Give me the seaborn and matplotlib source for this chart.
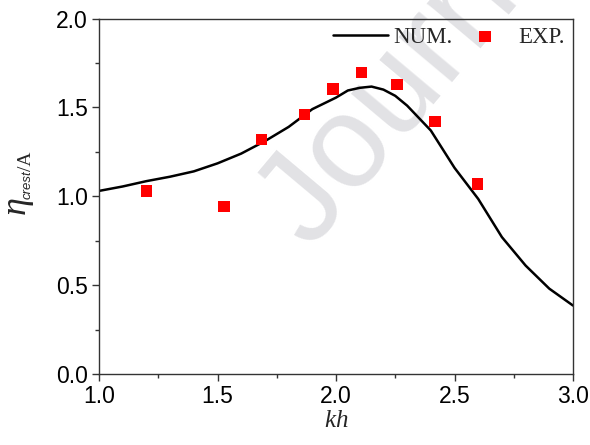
import numpy as np
import pandas as pd
import matplotlib
matplotlib.use("Agg")
import matplotlib.pyplot as plt
import seaborn as sns
from matplotlib.ticker import MultipleLocator

num_kh = [1.0, 1.1, 1.2, 1.3, 1.4, 1.5, 1.6, 1.7, 1.8, 1.9, 2.0, 2.05, 2.1, 2.15,
          2.2, 2.25, 2.3, 2.4, 2.5, 2.6, 2.7, 2.8, 2.9, 3.0]
num_eta = [1.03, 1.055, 1.085, 1.11, 1.14, 1.185, 1.24, 1.31, 1.39, 1.49, 1.555, 1.595,
           1.61, 1.617, 1.60, 1.565, 1.51, 1.37, 1.16, 0.985, 0.77, 0.61, 0.48, 0.385]
exp_kh = [1.20, 1.527, 1.685, 1.868, 1.987, 2.108, 2.257, 2.418, 2.598]
exp_eta = [1.03, 0.941, 1.318, 1.461, 1.603, 1.697, 1.628, 1.419, 1.069]

sns.set_style("ticks")
plt.rcParams['font.family'] = ['Liberation Sans', 'DejaVu Sans']
plt.rcParams['mathtext.fontset'] = 'custom'
plt.rcParams['mathtext.it'] = 'Liberation Serif:italic'
plt.rcParams['mathtext.rm'] = 'Liberation Serif'

W, H = 590.0, 445.0
fig = plt.figure(figsize=(5.9, 4.45), dpi=100)
ax = fig.add_axes([0.1678, 0.1596, 0.9712 - 0.1678, 0.9584 - 0.1596])

# watermark
fig.text(0.525, 0.44, "Journal", fontsize=95, color="#e2e2e5", rotation=50,
         ha="left", va="baseline", rotation_mode="anchor", zorder=-5,
         family="Liberation Sans")
ax.patch.set_alpha(0)

num_df = pd.DataFrame({"kh": num_kh, "eta": num_eta})
exp_df = pd.DataFrame({"kh": exp_kh, "eta": exp_eta})
sns.lineplot(data=num_df, x="kh", y="eta", ax=ax, color="black", lw=1.8,
             label="NUM.", sort=False)
sns.scatterplot(data=exp_df, x="kh", y="eta", ax=ax, color="#ff0000", marker="s",
                s=65, edgecolor="none", label="EXP.", zorder=3)

ax.set_xlim(1.0, 3.0)
ax.set_ylim(0.0, 2.0)
ax.xaxis.set_minor_locator(MultipleLocator(0.25))
ax.yaxis.set_minor_locator(MultipleLocator(0.25))
ax.set_xticks([1.0, 1.5, 2.0, 2.5, 3.0])
ax.set_xticklabels(["1.0", "1.5", "2.0", "2.5", "3.0"])
ax.set_yticks([0.0, 0.5, 1.0, 1.5, 2.0])
ax.set_yticklabels(["0.0", "0.5", "1.0", "1.5", "2.0"])
ax.tick_params(which="major", direction="out", length=5, width=1, labelsize=16.5,
               top=False, right=False, color="#333333", labelcolor="black", pad=3)
ax.tick_params(which="minor", direction="out", length=3, width=1,
               top=False, right=False, color="#333333")
for sp in ax.spines.values():
    sp.set_visible(True)
    sp.set_linewidth(1.0)
    sp.set_color("#333333")

ax.set_xlabel(r"$kh$", fontsize=18, labelpad=0)
ax.set_ylabel("")

# y label built from pieces: large eta, small sans-italic subscript, then "/A"
lab_kw = dict(rotation=90, rotation_mode="anchor", ha="left", va="baseline")
fig.text(25 / W, 1 - 214 / H, "\u03b7", fontsize=26, family="Liberation Serif",
         style="italic", **lab_kw)
fig.text(31 / W, 1 - 199 / H, "crest", fontsize=9.5, family="Liberation Sans",
         style="italic", **lab_kw)
fig.text(31 / W, 1 - 171 / H, "/A", fontsize=14, family="Liberation Serif", **lab_kw)

leg = ax.legend(loc="upper right", ncol=2, frameon=False,
                prop={"family": "Liberation Serif", "size": 16.5},
                handlelength=2.4, columnspacing=0.2, handletextpad=0.25,
                borderaxespad=0.0, borderpad=0.36)

fig.savefig("out.png", dpi=100)
